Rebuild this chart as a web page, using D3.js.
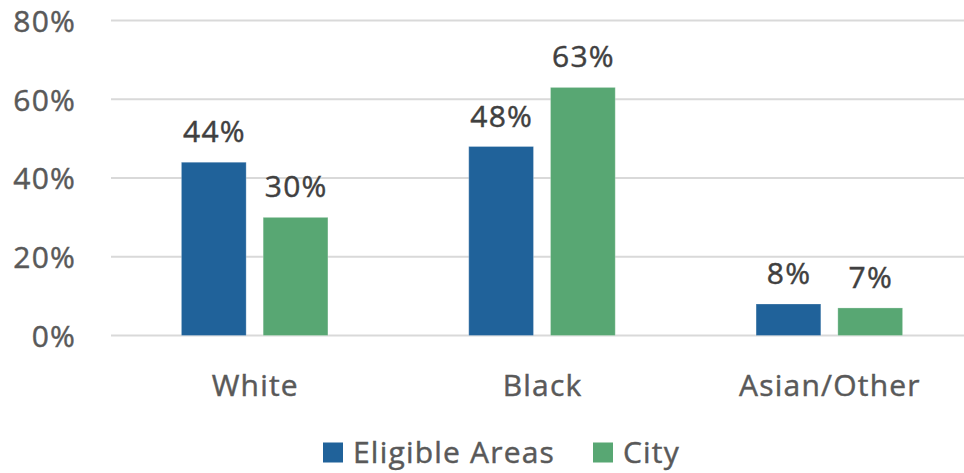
<!DOCTYPE html>
<html>
<head>
<meta charset="utf-8">
<script src="https://cdn.jsdelivr.net/npm/d3@7"></script>
<style>
  html, body { margin: 0; padding: 0; background: #ffffff; }
  svg { display: block; font-family: "Open Sans", "Noto Sans", sans-serif; }
  svg text { letter-spacing: 1.2px; stroke-width: 0.45px; }
</style>
</head>
<body>
<svg id="chart" width="964" height="473"></svg>
<script>
// Race/ethnicity share: eligible areas vs. city overall
const categories = ["White", "Black", "Asian/Other"];
const seriesNames = ["Eligible Areas", "City"];
const eligibleAreas = [44, 48, 8];
const city = [30, 63, 7];
const yTicks = [0, 20, 40, 60, 80];
const colors = ["#20629a", "#58a773"];

const svg = d3.select("#chart");
const W = 964, H = 473;
const plot = { left: 111, right: 973, top: 20.5, bottom: 335.5 };
const AXIS_TEXT = "#595959";
const VALUE_TEXT = "#404040";

const x0 = d3.scaleBand()
  .domain(categories)
  .range([plot.left, plot.right])
  .paddingInner(0)
  .paddingOuter(0);

const groupWidth = 146.5;
const x1 = d3.scaleBand()
  .domain(seriesNames)
  .range([0, groupWidth])
  .paddingInner(0.208)
  .paddingOuter(0);

const y = d3.scaleLinear().domain([0, 80]).range([plot.bottom, plot.top]);

// Gridlines
svg.append("g")
  .selectAll("line")
  .data(yTicks)
  .join("line")
  .attr("x1", plot.left)
  .attr("x2", W)
  .attr("y1", d => y(d))
  .attr("y2", d => y(d))
  .attr("stroke", "#d9d9d9")
  .attr("stroke-width", 2);

// Y axis labels
const yAxis = d3.axisLeft(y).tickValues(yTicks).tickFormat(d => d + "%").tickSize(0).tickPadding(0);
const yg = svg.append("g").attr("transform", "translate(76,0)").call(yAxis);
yg.select(".domain").remove();
yg.selectAll("text")
  .attr("font-size", 30)
  .attr("font-family", "\"Open Sans\", sans-serif")
  .attr("fill", AXIS_TEXT)
  .attr("stroke", AXIS_TEXT)
  .attr("dy", "0.36em");

const rows = categories.map((c, i) => ({
  category: c,
  values: [
    { series: seriesNames[0], value: eligibleAreas[i] },
    { series: seriesNames[1], value: city[i] }
  ]
}));

const groups = svg.append("g")
  .selectAll("g")
  .data(rows)
  .join("g")
  .attr("transform", d => `translate(${x0(d.category) + (x0.bandwidth() - groupWidth) / 2},0)`);

groups.selectAll("rect")
  .data(d => d.values)
  .join("rect")
  .attr("x", d => x1(d.series))
  .attr("width", x1.bandwidth())
  .attr("y", d => y(d.value))
  .attr("height", d => y(0) - y(d.value))
  .attr("fill", (d, i) => colors[i])
  .attr("stroke", "#ffffff")
  .attr("stroke-opacity", 0.25)
  .attr("stroke-width", 1);

// Value labels above bars
groups.selectAll("text.value")
  .data(d => d.values)
  .join("text")
  .attr("class", "value")
  .attr("x", d => x1(d.series) + x1.bandwidth() / 2 + 0.6)
  .attr("y", d => y(d.value) - 20)
  .attr("text-anchor", "middle")
  .attr("font-size", 30)
  .attr("fill", VALUE_TEXT)
  .attr("stroke", VALUE_TEXT)
  .text(d => d.value + "%");

// Category labels
svg.append("g")
  .selectAll("text")
  .data(categories)
  .join("text")
  .attr("x", d => x0(d) + x0.bandwidth() / 2 + 0.6)
  .attr("y", 396)
  .attr("text-anchor", "middle")
  .attr("font-size", 30)
  .attr("fill", AXIS_TEXT)
  .attr("stroke", AXIS_TEXT)
  .text(d => d);

// Legend
const legendItems = [
  { name: seriesNames[0], color: colors[0], x: 323 },
  { name: seriesNames[1], color: colors[1], x: 593 }
];
const lg = svg.append("g").selectAll("g").data(legendItems).join("g")
  .attr("transform", d => `translate(${d.x},0)`);
lg.append("rect")
  .attr("x", 0).attr("y", 442.5)
  .attr("width", 20).attr("height", 20)
  .attr("fill", d => d.color);
lg.append("text")
  .attr("x", 30).attr("y", 463)
  .attr("font-size", 30)
  .attr("fill", AXIS_TEXT)
  .attr("stroke", AXIS_TEXT)
  .text(d => d.name);
</script>
</body>
</html>
